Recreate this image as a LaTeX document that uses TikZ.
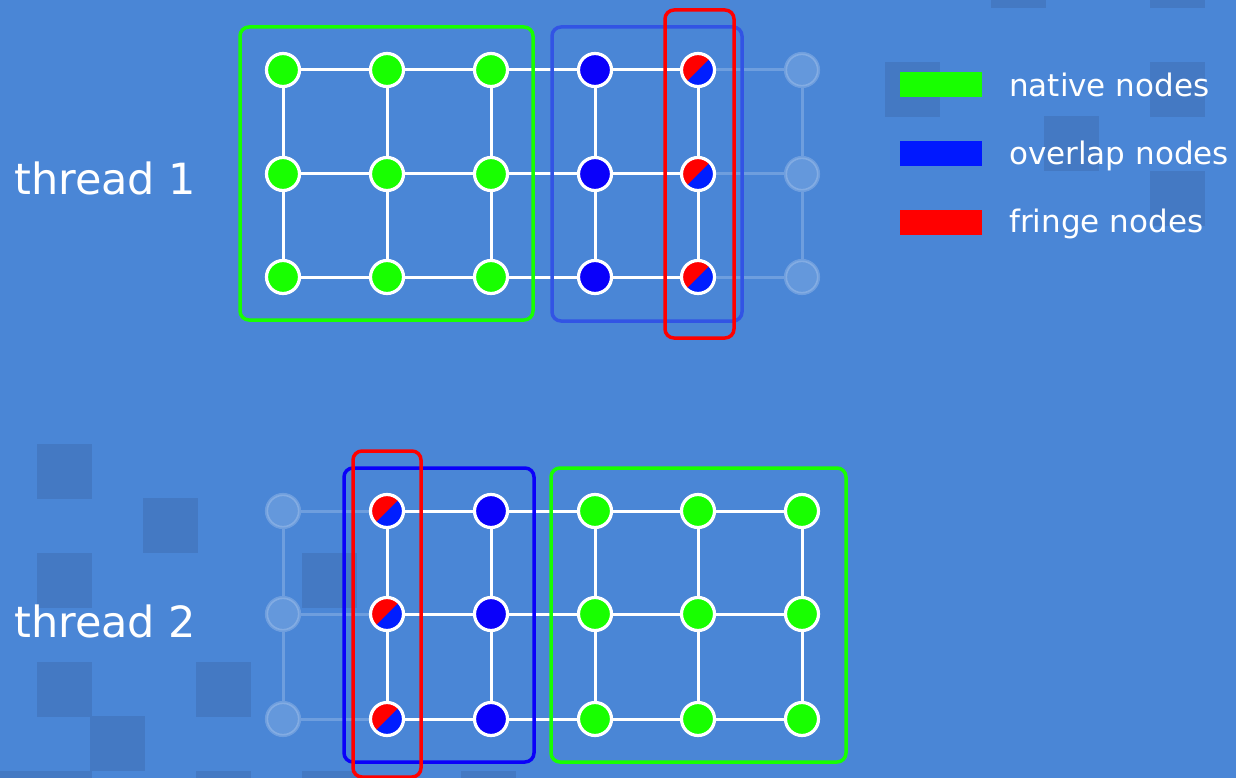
\documentclass[tikz,border=0pt]{standalone}
\usepackage{fontspec}
\setmainfont{DejaVu Sans}
\definecolor{bgblue}{RGB}{74,134,214}
\definecolor{tile}{RGB}{68,121,195}
\definecolor{nativecol}{RGB}{24,255,0}
\definecolor{overlapcol}{RGB}{10,0,250}
\definecolor{splitblue}{RGB}{0,30,255}
\definecolor{fringecol}{RGB}{255,0,0}
\definecolor{keyblue}{RGB}{0,24,255}
\definecolor{softblue}{RGB}{50,84,228}

\begin{document}
\begin{tikzpicture}[x=1pt,y=-1pt,
  every node/.style={inner sep=0pt},
  gridnode/.style={circle,draw=white,line width=3.2pt,minimum size=33pt},
  nativenode/.style={gridnode,fill=nativecol},
  overlapnode/.style={gridnode,fill=overlapcol},
  fringenode/.style={gridnode,fill=splitblue,
    path picture={\fill[fringecol] (path picture bounding box.south west)
      -- (path picture bounding box.north east)
      -- (path picture bounding box.north west) -- cycle;}},
  ghostnode/.style={circle,draw=white,draw opacity=.2,fill=white,
    fill opacity=.15,line width=3.2pt,minimum size=33pt},
  link/.style={white,line width=3pt},
  ghostlink/.style={white,opacity=.2,line width=3pt},
  frame/.style={line width=3.5pt,rounded corners=9pt},
  swatch/.style={minimum width=82pt,minimum height=25pt},
  keytext/.style={anchor=base west,text=white,font=\fontsize{31}{36}\selectfont},
  threadtext/.style={anchor=base west,text=white,font=\fontsize{43}{50}\selectfont}]

  % background and tiles
  \fill[bgblue] (0,0) rectangle (1236,778);
  \useasboundingbox (0,0) rectangle (1236,778);
  \foreach \i/\j in {18/0,21/0,16/2,21/2,19/3,21/4,0/9,2/10,0/11,5/11,
      0/13,3/13,1/14,-1/15,0/15,3/15,5/15,8/15}
    \fill[tile] (37+53*\i,-47+54.5*\j) rectangle ++(55,55);

  % thread 1
  \node[threadtext] (thread1) at (14,194) {thread 1};
  \foreach \c/\x/\kind in {1/283/nativenode,2/387/nativenode,3/491/nativenode,
      4/595/overlapnode,5/698/fringenode,6/802/ghostnode}
    \foreach \r/\y in {1/70,2/174,3/277}
      \node[\kind] (t\c\r) at (\x,\y) {};
  \foreach \r in {1,2,3} {
    \foreach \c/\d in {1/2,2/3,3/4,4/5}
      \draw[link] (t\c\r) -- (t\d\r);
    \draw[ghostlink] (t5\r) -- (t6\r);
  }
  \foreach \r/\s in {1/2,2/3} {
    \foreach \c in {1,...,5}
      \draw[link] (t\c\r) -- (t\c\s);
    \draw[ghostlink] (t6\r) -- (t6\s);
  }
  \draw[frame,nativecol] (240,27) rectangle (533,320);
  \draw[frame,softblue] (552,27) rectangle (742,321);
  \draw[frame,fringecol] (665,10) rectangle (734,338);

  % thread 2
  \node[threadtext] (thread2) at (14,637) {thread 2};
  \foreach \c/\x/\kind in {1/283/ghostnode,2/387/fringenode,3/491/overlapnode,
      4/595/nativenode,5/698/nativenode,6/802/nativenode}
    \foreach \r/\y in {1/511,2/614,3/719}
      \node[\kind] (b\c\r) at (\x,\y) {};
  \foreach \r in {1,2,3} {
    \draw[ghostlink] (b1\r) -- (b2\r);
    \foreach \c/\d in {2/3,3/4,4/5,5/6}
      \draw[link] (b\c\r) -- (b\d\r);
  }
  \foreach \r/\s in {1/2,2/3} {
    \draw[ghostlink] (b1\r) -- (b1\s);
    \foreach \c in {2,...,6}
      \draw[link] (b\c\r) -- (b\c\s);
  }
  \draw[frame,overlapcol] (344,468) rectangle (534,762);
  \draw[frame,nativecol] (551,468) rectangle (846,762);
  \draw[frame,fringecol] (353,451) rectangle (421,777);

  % legend
  \node[swatch,fill=nativecol] (keynative) at (941,84.5) {};
  \node[swatch,fill=keyblue] (keyoverlap) at (941,153.5) {};
  \node[swatch,fill=fringecol] (keyfringe) at (941,222.5) {};
  \node[keytext] (keynativetxt) at (1009,97) {native nodes};
  \node[keytext] (keyoverlaptxt) at (1009,165) {overlap nodes};
  \node[keytext] (keyfringetxt) at (1009,233) {fringe nodes};
\end{tikzpicture}
\end{document}
